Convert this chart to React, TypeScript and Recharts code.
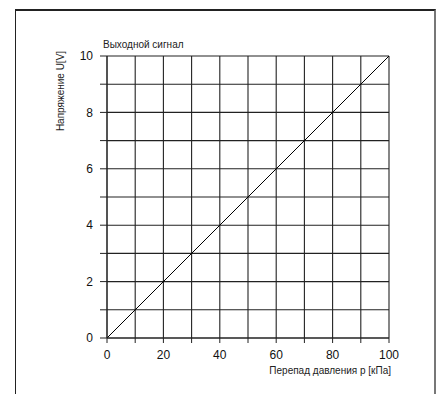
import React from 'react';
import { LineChart, Line, XAxis, YAxis, CartesianGrid } from 'recharts';

const pressureKPa = [0, 100];
const voltageV = [0, 10];
const xTicks = [0, 10, 20, 30, 40, 50, 60, 70, 80, 90, 100];
const yTicks = [0, 1, 2, 3, 4, 5, 6, 7, 8, 9, 10];
const xLabelTicks = [0, 20, 40, 60, 80, 100];
const yLabelTicks = [0, 2, 4, 6, 8, 10];

const titleText = 'Выходной сигнал';
const yTitle = 'Напряжение U[V]';
const xTitle = 'Перепад давления p [кПа]';

const data = pressureKPa.map((p, i) => ({ p, u: voltageV[i] }));

const FONT = '"Liberation Sans", Arial, Helvetica, sans-serif';

export default function App() {
  return (
    <div style={{ position: 'absolute', left: 0, top: 0, width: 444, height: 394, background: '#fff', fontFamily: FONT }}>
      <div
        style={{
          position: 'absolute',
          left: 15,
          top: 9,
          width: 436 - 15,
          height: 394 - 9,
          borderTop: '2px solid #222',
          borderLeft: '1.5px solid #222',
          borderRight: '2px solid #777',
          boxSizing: 'border-box',
        }}
      />
      <div style={{ position: 'absolute', left: 0, top: 0 }}>
        <LineChart
          width={444}
          height={394}
          data={data}
          margin={{ top: 56, right: 55, bottom: 6, left: 67 }}
        >
          <CartesianGrid
            stroke="#222"
            strokeWidth={1.1}
            horizontalValues={yTicks}
            verticalValues={xTicks}
          />
          <XAxis
            dataKey="p"
            type="number"
            domain={[0, 100]}
            ticks={xTicks}
            interval={0}
            height={50}
            tickSize={5}
            tickMargin={7}
            axisLine={{ stroke: '#222' }}
            tickLine={{ stroke: '#222' }}
            tick={{ fill: '#111', fontSize: 12, fontFamily: FONT }}
            tickFormatter={(v: number) => (xLabelTicks.includes(v) ? String(v) : '')}
          />
          <YAxis
            type="number"
            domain={[0, 10]}
            ticks={yTicks}
            interval={0}
            width={40}
            tickSize={7}
            tickMargin={7}
            axisLine={{ stroke: '#222' }}
            tickLine={{ stroke: '#222' }}
            tick={{ fill: '#111', fontSize: 12, fontFamily: FONT }}
            tickFormatter={(v: number) => (yLabelTicks.includes(v) ? String(v) : '')}
          />
          <Line
            dataKey="u"
            stroke="#000"
            strokeWidth={1}
            dot={false}
            isAnimationActive={false}
          />
        </LineChart>
      </div>
      <svg
        width={444}
        height={394}
        style={{ position: 'absolute', left: 0, top: 0, pointerEvents: 'none' }}
      >
        <text x={103} y={48} fontSize={10} fill="#222" fontFamily={FONT}>
          {titleText}
        </text>
        <text
          x={0}
          y={0}
          fontSize={10}
          fill="#222"
          fontFamily={FONT}
          textAnchor="middle"
          transform="translate(64,91) rotate(-90)"
        >
          {yTitle}
        </text>
        <text x={391} y={374} fontSize={10} fill="#222" fontFamily={FONT} textAnchor="end">
          {xTitle}
        </text>
      </svg>
    </div>
  );
}
